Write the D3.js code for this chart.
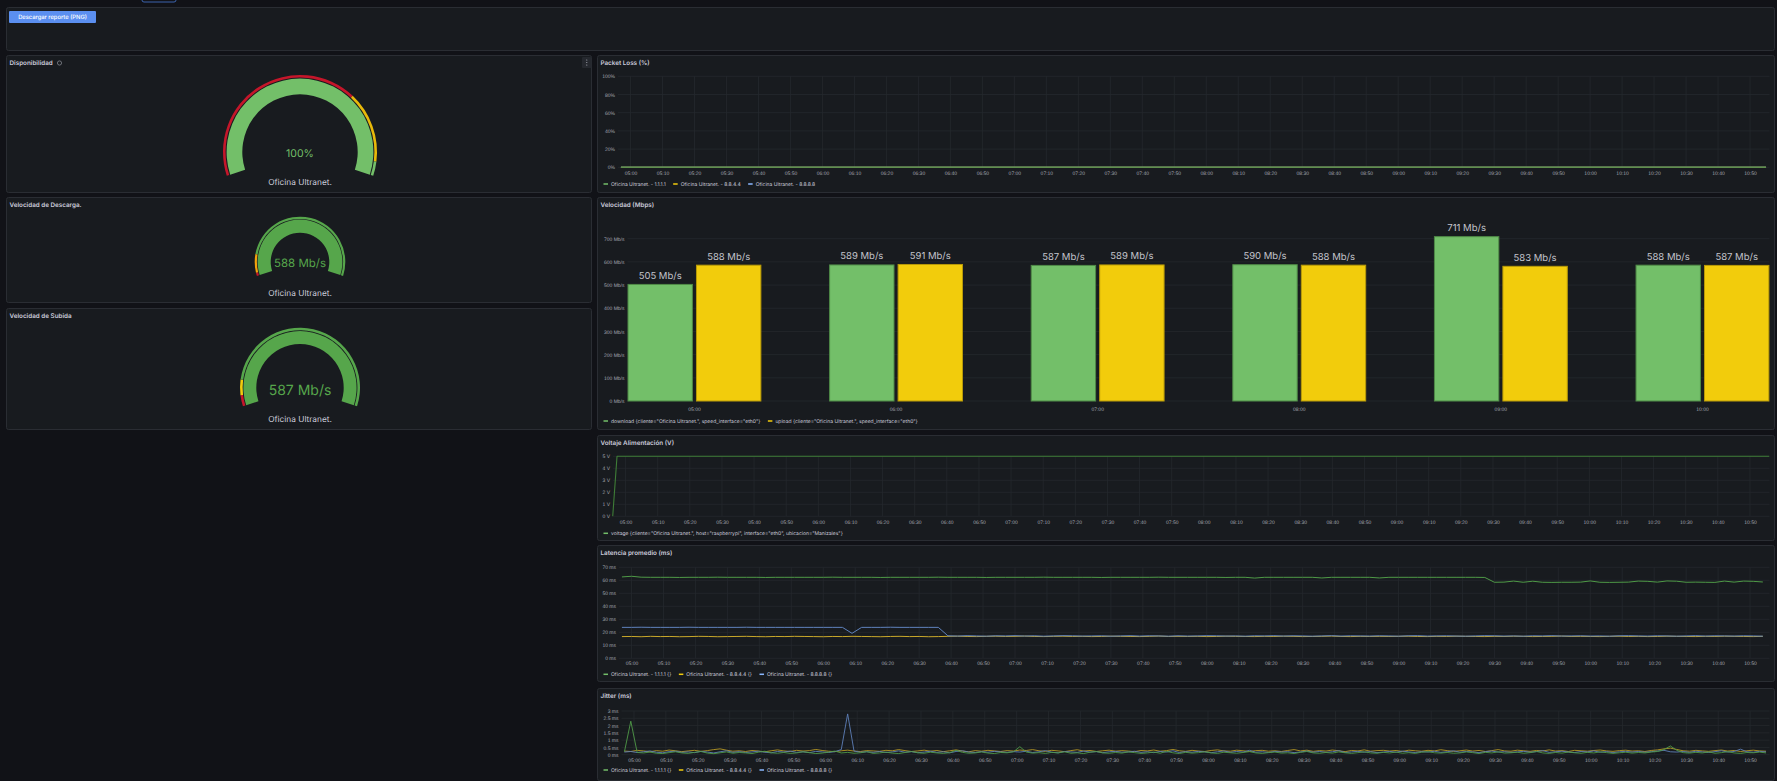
<!DOCTYPE html>
<html><head><meta charset="utf-8">
<script src="https://cdn.jsdelivr.net/npm/d3@7"></script>
<style>
html,body{margin:0;padding:0;background:#111217;overflow:hidden}
svg{display:block;font-family:Inter,"Noto Sans",sans-serif;text-rendering:geometricPrecision}
</style></head><body>
<svg id="c" width="1777" height="781"></svg>
<script>
// ================= DATA =================
const buttonLabel = "Descargar reporte (PNG)";

const gaugeTitles = ["Disponibilidad", "Velocidad de Descarga.", "Velocidad de Subida"];
const gaugeNames = ["Oficina Ultranet.", "Oficina Ultranet.", "Oficina Ultranet."];
const gaugeValues = [100, 588, 587];
const gaugeUnits = ["%", " Mb/s", " Mb/s"];
const gaugeMin = [0, 0, 0];
const gaugeMax = [100, 500, 500];
const gaugeSteps = [[0, 70, 95], [0, 10, 65], [0, 25, 60]];

const speedCategories = ["05:00", "06:00", "07:00", "08:00", "09:00", "10:00"];
const speedSeries = ["download", "upload"];
const downloadMbps = [505, 589, 587, 590, 711, 588];
const uploadMbps = [588, 591, 589, 588, 583, 587];
const speedTicks = [0, 100, 200, 300, 400, 500, 600, 700];
const speedLegend = ['download {cliente="Oficina Ultranet.", speed_interface="eth0"}',
                     'upload {cliente="Oficina Ultranet.", speed_interface="eth0"}'];

const lossTimes = ["04:57","05:30","06:00","06:30","07:00","07:30","08:00","08:30","09:00","09:30","10:00","10:30","10:55"];
const loss1111 = [0,0,0,0,0,0,0,0,0,0,0,0,0];
const loss8844 = [0,0,0,0,0,0,0,0,0,0,0,0,0];
const loss8888 = [0,0,0,0,0,0,0,0,0,0,0,0,0];
const lossTicks = [0, 20, 40, 60, 80, 100];
const lossLegend = ["Oficina Ultranet. - 1.1.1.1", "Oficina Ultranet. - 8.8.4.4", "Oficina Ultranet. - 8.8.8.8"];

const voltTimes = ["04:56","04:57:20","06:00","07:00","08:00","09:00","10:00","10:56"];
const voltValues = [0, 5, 5, 5, 5, 5, 5, 5];
const voltTicks = [0, 1, 2, 3, 4, 5];
const voltLegend = ['voltage {cliente="Oficina Ultranet.", host="raspberrypi", interface="eth0", ubicacion="Manizales"}'];

const latStart = "04:57", latStepMin = 3;
const lat1111 = [
62.6,63.1,62.4,62.3,62.3,62.3,62.2,62.3,62.3,62.3,62.4,62.3,62.3,62.3,62.3,62.2,62.3,62.3,62.3,62.3,
62.3,62.3,62.4,62.3,62.3,62.3,62.3,62.2,62.3,62.3,62.3,62.3,62.3,62.4,62.3,62.3,62.3,62.3,62.2,62.3,
62.3,62.3,62.3,62.3,62.4,62.3,62.3,62.3,62.3,62.3,62.2,62.3,62.3,62.3,62.3,62.3,62.4,62.3,62.3,62.3,
62.3,62.3,62.3,62.2,62.3,62.3,61.7,62.3,62.3,62.3,62.3,62.3,62.3,61.8,62.3,62.3,62.3,62.3,62.3,61.8,
62.3,62.3,62.3,62.3,62.3,62.3,62.3,62.3,62.3,62.3,62.2,58.5,58.6,59.4,58.5,59.3,58.5,58.4,58.5,58.5,
58.6,59.5,58.5,58.4,58.5,58.6,59.4,59.2,58.6,59.5,59.3,58.5,58.6,58.5,58.4,59.4,58.6,59.4,59.2,58.7];
const lat8844 = [
16.7,16.8,16.6,16.9,16.7,16.8,16.6,16.7,16.9,16.8,16.6,16.7,16.8,16.9,16.7,16.6,16.8,16.7,16.9,16.8,
16.7,16.6,16.8,16.7,16.9,16.8,16.7,16.6,16.8,16.9,16.7,16.8,16.6,16.7,16.9,17.0,16.8,16.7,16.9,17.0,
16.8,16.9,17.1,16.8,16.7,16.9,17.0,16.8,16.9,16.7,16.8,17.0,16.9,16.8,16.7,16.9,17.1,16.8,16.9,16.8,
16.9,16.7,16.8,17.0,16.9,16.8,16.7,16.9,16.8,17.0,16.9,16.7,16.8,16.9,17.1,16.8,16.7,16.9,16.8,16.9,
16.8,16.9,17.0,16.8,16.7,16.9,16.8,17.0,16.9,16.8,16.7,16.9,16.8,17.0,16.9,16.7,16.8,16.9,17.1,16.8,
16.9,16.8,16.7,16.9,17.0,16.8,16.9,16.7,16.8,17.0,16.9,16.8,16.7,16.9,16.8,17.0,16.9,16.8,16.7,16.9];
const lat8888 = [
23.8,23.8,23.9,23.8,23.8,23.8,23.8,23.9,23.8,23.8,23.8,23.8,23.8,23.9,23.8,23.8,23.8,23.8,23.8,23.8,
23.8,23.8,23.8,23.8,19.2,23.8,23.8,23.8,23.9,23.8,23.8,23.8,23.8,23.8,17.3,17.1,17.4,17.2,17.0,17.3,
17.2,17.4,17.1,17.3,17.0,17.2,17.4,17.3,17.1,17.2,17.3,17.0,17.2,17.4,17.1,17.3,17.2,17.0,17.3,17.1,
17.2,17.4,17.3,17.1,17.2,17.0,17.3,17.2,17.4,17.1,17.3,17.2,17.0,17.2,17.4,17.1,17.3,17.2,17.1,17.3,
17.2,17.0,17.3,17.4,17.1,17.2,17.3,17.1,17.0,17.2,17.4,17.3,17.1,17.2,17.0,17.3,17.2,17.4,17.1,17.2,
17.3,17.1,17.2,17.0,17.3,17.4,17.2,17.1,17.3,17.2,17.0,17.2,17.4,17.1,17.3,17.2,17.1,17.3,17.2,17.0];
const latTicks = [0, 10, 20, 30, 40, 50, 60, 70];
const latLegend = ["Oficina Ultranet. - 1.1.1.1 {}", "Oficina Ultranet. - 8.8.4.4 {}", "Oficina Ultranet. - 8.8.8.8 {}"];

const jitStart = "04:57", jitStepMin = 2;
const jit1111 = [
0.20,2.30,0.15,0.12,0.18,0.10,0.08,0.14,0.20,0.12,0.09,0.16,0.22,0.11,0.07,0.13,0.19,0.10,0.15,0.12,
0.08,0.17,0.24,0.13,0.10,0.15,0.09,0.12,0.20,0.14,0.08,0.11,0.18,0.25,0.12,0.16,0.10,0.13,0.21,0.09,
0.12,0.18,0.11,0.08,0.15,0.22,0.13,0.10,0.17,0.12,0.09,0.14,0.30,0.16,0.10,0.12,0.19,0.11,0.08,0.15,
0.13,0.20,0.55,0.18,0.11,0.14,0.09,0.16,0.12,0.20,0.10,0.13,0.08,0.17,0.22,0.12,0.10,0.15,0.11,0.19,
0.14,0.09,0.12,0.18,0.10,0.23,0.13,0.08,0.16,0.11,0.14,0.20,0.12,0.09,0.17,0.13,0.10,0.15,0.21,0.12,
0.09,0.14,0.18,0.11,0.13,0.08,0.16,0.22,0.12,0.10,0.15,0.11,0.19,0.13,0.09,0.14,0.20,0.12,0.10,0.16,
0.12,0.18,0.10,0.14,0.09,0.17,0.21,0.13,0.11,0.15,0.10,0.12,0.19,0.14,0.08,0.16,0.12,0.20,0.11,0.13,
0.17,0.10,0.14,0.22,0.12,0.09,0.15,0.11,0.18,0.13,0.10,0.16,0.12,0.20,0.14,0.09,0.13,0.17,0.11,0.15,
0.12,0.18,0.22,0.35,0.60,0.30,0.14,0.11,0.16,0.12,0.19,0.10,0.14,0.21,0.12,0.09,0.15,0.13,0.18,0.12];
const jit8844 = [
0.25,0.22,0.30,0.26,0.20,0.28,0.24,0.32,0.27,0.21,0.26,0.30,0.23,0.28,0.35,0.40,0.31,0.24,0.27,0.22,
0.29,0.25,0.20,0.27,0.33,0.26,0.22,0.30,0.25,0.28,0.36,0.29,0.24,0.21,0.27,0.31,0.25,0.22,0.28,0.26,
0.23,0.30,0.27,0.35,0.28,0.22,0.26,0.31,0.24,0.29,0.21,0.27,0.33,0.25,0.20,0.28,0.24,0.30,0.26,0.22,
0.28,0.25,0.32,0.29,0.35,0.27,0.23,0.30,0.26,0.21,0.28,0.34,0.25,0.29,0.22,0.27,0.31,0.24,0.28,0.25,
0.21,0.29,0.26,0.32,0.24,0.28,0.36,0.27,0.23,0.30,0.25,0.22,0.29,0.33,0.26,0.24,0.31,0.27,0.22,0.28,
0.30,0.24,0.27,0.22,0.29,0.35,0.26,0.31,0.23,0.28,0.25,0.32,0.27,0.21,0.29,0.26,0.33,0.24,0.28,0.30,
0.25,0.29,0.22,0.31,0.27,0.24,0.30,0.26,0.34,0.28,0.23,0.27,0.32,0.25,0.29,0.22,0.28,0.35,0.26,0.24,
0.31,0.27,0.23,0.29,0.26,0.33,0.25,0.28,0.22,0.30,0.27,0.24,0.29,0.32,0.26,0.23,0.28,0.31,0.25,0.27,
0.22,0.29,0.33,0.40,0.45,0.36,0.27,0.24,0.30,0.26,0.23,0.28,0.32,0.25,0.29,0.22,0.27,0.31,0.26,0.24];
const jit8888 = [
0.18,0.22,0.15,0.20,0.26,0.17,0.13,0.21,0.24,0.16,0.19,0.14,0.23,0.18,0.12,0.20,0.27,0.16,0.21,0.15,
0.19,0.24,0.17,0.13,0.22,0.18,0.25,0.16,0.20,0.14,0.23,0.19,0.15,0.21,0.35,2.80,0.25,0.17,0.20,0.16,
0.22,0.15,0.19,0.26,0.17,0.21,0.14,0.18,0.24,0.16,0.20,0.13,0.22,0.27,0.18,0.15,0.21,0.17,0.23,0.19,
0.16,0.21,0.18,0.24,0.15,0.20,0.28,0.17,0.13,0.22,0.19,0.16,0.25,0.18,0.21,0.14,0.20,0.23,0.17,0.19,
0.24,0.16,0.20,0.14,0.22,0.18,0.27,0.15,0.21,0.17,0.23,0.19,0.14,0.20,0.26,0.16,0.22,0.18,0.30,0.17,
0.20,0.15,0.23,0.18,0.21,0.14,0.19,0.25,0.17,0.22,0.16,0.20,0.28,0.15,0.19,0.23,0.17,0.21,0.14,0.18,
0.22,0.17,0.25,0.19,0.15,0.21,0.18,0.24,0.16,0.20,0.27,0.17,0.22,0.19,0.14,0.21,0.25,0.18,0.20,0.16,
0.19,0.23,0.17,0.21,0.28,0.16,0.20,0.24,0.18,0.15,0.22,0.19,0.26,0.17,0.21,0.14,0.20,0.23,0.18,0.22,
0.17,0.21,0.25,0.30,0.20,0.18,0.22,0.16,0.24,0.19,0.15,0.21,0.27,0.18,0.22,0.38,0.20,0.17,0.23,0.19];
const jitTicks = [0, 0.5, 1, 1.5, 2, 2.5, 3];
const jitLegend = latLegend;

const timeDomain = ["04:56:05", "10:56:05"];

// ================= STYLE =================
const C = {bg:"#111217", panel:"#181b1f", border:"#2a2d33", grid:"#25282d", text:"#ccccdc", tick:"#a6a8b2",
  green:"#73BF69", semiGreen:"#56A64B", yellow:"#F2CC0C", blue:"#8AB8FF", red:"#C4162A", orange:"#F2A20C"};
const gaugeColors = [[C.red, "#E8B90A", C.green], [C.red, C.orange, C.semiGreen], [C.red, C.yellow, C.semiGreen]];
const seriesColors = [C.green, C.yellow, C.blue];

// ================= HELPERS =================
const W = 1777, H = 781;
const svg = d3.select("#c");
const T = s => { const p = s.split(":").map(Number); return new Date(2024, 0, 1, p[0], p[1], p[2] || 0); };
const fmtTime = d3.timeFormat("%H:%M");

svg.append("rect").attr("width", W).attr("height", H).attr("fill", C.bg);

function panel(x, y, w, h, title) {
  const g = svg.append("g");
  g.append("rect").attr("x", x + 0.5).attr("y", y + 0.5).attr("width", w - 1).attr("height", h - 1)
    .attr("rx", 2).attr("fill", C.panel).attr("stroke", C.border);
  if (title) g.append("text").attr("x", x + 3.5).attr("y", y + 8).attr("dy", "0.35em")
    .attr("font-size", 6.3).attr("font-weight", 600).attr("fill", C.text).text(title);
  return g;
}

function legend(g, x0, y, items, colors) {
  let x = x0;
  items.forEach((t, i) => {
    g.append("rect").attr("x", x).attr("y", y - 0.75).attr("width", 4.5).attr("height", 1.5).attr("fill", colors[i]);
    const tx = g.append("text").attr("x", x + 7.5).attr("y", y).attr("dy", "0.35em")
      .attr("font-size", 5).attr("fill", C.text).text(t);
    x += 7.5 + tx.node().getComputedTextLength() + 7.5;
  });
}

function timeChart(g, o) {
  const x = d3.scaleTime().domain(timeDomain.map(T)).range([o.left, o.right]);
  const y = d3.scaleLinear().domain(o.yDomain).range(o.yRange);
  const ticks = x.ticks(d3.timeMinute.every(10));
  g.append("g").selectAll("line").data(o.yTicks).join("line")
    .attr("x1", o.left).attr("x2", o.right).attr("y1", d => y(d)).attr("y2", d => y(d))
    .attr("stroke", C.grid).attr("stroke-width", 0.8);
  g.append("g").selectAll("line").data(ticks).join("line")
    .attr("x1", d => x(d)).attr("x2", d => x(d)).attr("y1", o.yRange[1]).attr("y2", o.yRange[0])
    .attr("stroke", C.grid).attr("stroke-width", 0.8);
  const ay = g.append("g").attr("transform", `translate(${o.left - 3},0)`)
    .call(d3.axisLeft(y).tickValues(o.yTicks).tickFormat(o.yFmt).tickSize(0).tickPadding(0));
  ay.select(".domain").remove();
  ay.selectAll("text").attr("font-size", 5).attr("fill", C.tick).attr("font-family", null);
  const ax = g.append("g").attr("transform", `translate(0,${o.xLabelY})`)
    .call(d3.axisBottom(x).tickValues(ticks).tickFormat(fmtTime).tickSize(0).tickPadding(0));
  ax.select(".domain").remove();
  ax.selectAll("text").attr("y", 0).attr("dy", "0.35em").attr("font-size", 5).attr("fill", C.tick).attr("font-family", null);
  const line = d3.line().x(d => x(d.t)).y(d => y(d.v));
  o.series.forEach(s => {
    const pts = s.times.map((t, i) => ({t, v: s.values[i]}));
    g.append("path").datum(pts).attr("d", line).attr("fill", "none")
      .attr("stroke", s.color).attr("stroke-width", s.width || 1).attr("stroke-linejoin", "round")
      .attr("opacity", s.opacity || 1);
  });
  legend(g, 603.5, o.legendY, o.legend, o.legendColors);
}

const gridTimes = (start, step, n) => d3.range(n).map(i => d3.timeMinute.offset(T(start), i * step));

// ================= TOP =================
svg.append("rect").attr("x", 142).attr("y", -5).attr("width", 34).attr("height", 7).attr("rx", 2)
  .attr("fill", "none").attr("stroke", "#3c63ad").attr("stroke-width", 1);
panel(6, 7, 1769, 44, null);
svg.append("rect").attr("x", 9).attr("y", 11).attr("width", 87).attr("height", 12).attr("rx", 1)
  .attr("fill", "#5b8ff0");
svg.append("text").attr("x", 52.5).attr("y", 16.5).attr("dy", "0.35em").attr("text-anchor", "middle")
  .attr("font-size", 5.8).attr("font-weight", 500).attr("fill", "#ffffff").text(buttonLabel);

// ================= GAUGES =================
const gaugeLayout = [
  {px:6, py:55, pw:586, ph:138, cx:300, cy:152, ringIn:74.4, ringOut:77, mainIn:57.7, mainOut:73.4, vSize:10.5, vY:153.3, nY:182.3, mainColor:C.green},
  {px:6, py:197, pw:586, ph:106, cx:300, cy:262, ringIn:43.1, ringOut:45.3, mainIn:29.3, mainOut:42.4, vSize:11.5, vY:263.3, nY:293.3, mainColor:C.semiGreen},
  {px:6, py:308, pw:586, ph:122, cx:300, cy:387.7, ringIn:57.4, ringOut:60, mainIn:43.7, mainOut:56.6, vSize:14, vY:390, nY:419.3, mainColor:C.semiGreen}
];
const halfSweep = 108 * Math.PI / 180;
gaugeTitles.forEach((title, i) => {
  const L = gaugeLayout[i];
  const g = panel(L.px, L.py, L.pw, L.ph, title);
  const a = d3.scaleLinear().domain([gaugeMin[i], gaugeMax[i]]).range([-halfSweep, halfSweep]).clamp(true);
  const gg = g.append("g").attr("transform", `translate(${L.cx},${L.cy})`);
  const steps = gaugeSteps[i];
  steps.forEach((s, k) => {
    const e = k < steps.length - 1 ? steps[k + 1] : gaugeMax[i];
    gg.append("path").attr("d", d3.arc()({innerRadius: L.ringIn, outerRadius: L.ringOut, startAngle: a(s), endAngle: a(e)}))
      .attr("fill", gaugeColors[i][k]);
  });
  gg.append("path").attr("d", d3.arc()({innerRadius: L.mainIn, outerRadius: L.mainOut,
      startAngle: a(gaugeMin[i]), endAngle: a(gaugeValues[i])}))
    .attr("fill", L.mainColor);
  g.append("text").attr("x", L.cx).attr("y", L.vY).attr("dy", "0.35em").attr("text-anchor", "middle")
    .attr("font-size", L.vSize).attr("fill", L.mainColor).text(gaugeValues[i] + gaugeUnits[i]);
  g.append("text").attr("x", L.cx).attr("y", L.nY).attr("dy", "0.35em").attr("text-anchor", "middle")
    .attr("font-size", 8.3).attr("fill", C.text).text(gaugeNames[i]);
});
svg.append("circle").attr("cx", 59.5).attr("cy", 63).attr("r", 2.1).attr("fill", "none").attr("stroke", "#8e909a").attr("stroke-width", 0.7);
svg.append("rect").attr("x", 582).attr("y", 57).attr("width", 9.5).attr("height", 11).attr("rx", 1).attr("fill", "#25282e");
[60, 62.5, 65].forEach(yy => svg.append("circle").attr("cx", 586.8).attr("cy", yy).attr("r", 0.55).attr("fill", "#b8bac4"));

// ================= PACKET LOSS =================
{
  const g = panel(597, 55, 1178, 138, "Packet Loss (%)");
  const times = lossTimes.map(T);
  timeChart(g, {left: 618, right: 1769.5, yDomain: [0, 100], yRange: [167.3, 76.3], yTicks: lossTicks,
    yFmt: d => d + "%", xLabelY: 173, legendY: 184, legend: lossLegend, legendColors: seriesColors,
    series: [
      {times, values: loss8888, color: C.blue, width: 1.3},
      {times, values: loss8844, color: C.yellow, width: 1.3, opacity: 0.6},
      {times, values: loss1111, color: "#5f8f4e", width: 1.4}
    ]});
}

// ================= VELOCIDAD (bars) =================
{
  const g = panel(597, 197, 1178, 233, "Velocidad (Mbps)");
  const left = 627.5, right = 1769.4;
  const x = d3.scaleBand().domain(speedCategories).range([left, right]).paddingInner(0.336).paddingOuter(0);
  const xs = d3.scaleBand().domain(speedSeries).range([0, x.bandwidth()]).paddingInner(0.045);
  const y = d3.scaleLinear().domain([0, 700]).range([401, 238.7]);
  g.append("g").selectAll("line").data(speedTicks).join("line")
    .attr("x1", left).attr("x2", right).attr("y1", d => y(d)).attr("y2", d => y(d))
    .attr("stroke", C.grid).attr("stroke-width", 0.8);
  const ay = g.append("g").attr("transform", `translate(${left - 3},0)`)
    .call(d3.axisLeft(y).tickValues(speedTicks).tickFormat(d => d + " Mb/s").tickSize(0).tickPadding(0));
  ay.select(".domain").remove();
  ay.selectAll("text").attr("font-size", 5).attr("fill", C.tick).attr("font-family", null);
  const ax = g.append("g").attr("transform", "translate(0,409)").call(d3.axisBottom(x).tickSize(0).tickPadding(0));
  ax.select(".domain").remove();
  ax.selectAll("text").attr("y", 0).attr("dy", "0.35em").attr("font-size", 5).attr("fill", C.tick).attr("font-family", null);
  const vals = {download: downloadMbps, upload: uploadMbps};
  const fill = {download: C.green, upload: C.yellow};
  const stroke = {download: "#4f8a47", upload: "#b89a08"};
  speedSeries.forEach(s => {
    speedCategories.forEach((c, i) => {
      const v = vals[s][i];
      const bx = x(c) + xs(s), bw = xs.bandwidth();
      g.append("rect").attr("x", bx + 0.5).attr("y", y(v) + 0.5).attr("width", bw - 1).attr("height", y(0) - y(v) - 0.5)
        .attr("fill", fill[s]).attr("stroke", stroke[s]).attr("stroke-width", 1);
      g.append("text").attr("x", bx + bw / 2).attr("y", y(v) - 5).attr("text-anchor", "middle")
        .attr("font-size", 9.5).attr("fill", "#c3c4cc").text(v + " Mb/s");
    });
  });
  legend(g, 603.5, 421, speedLegend, [C.green, C.yellow]);
}

// ================= VOLTAJE =================
{
  const g = panel(597, 435, 1178, 106, "Voltaje Alimentación (V)");
  timeChart(g, {left: 613, right: 1769.5, yDomain: [0, 5], yRange: [516.3, 456.3], yTicks: voltTicks,
    yFmt: d => d + " V", xLabelY: 522.7, legendY: 533.3, legend: voltLegend, legendColors: [C.green],
    series: [{times: voltTimes.map(T), values: voltValues, color: "#3f7d37", width: 1.1}]});
}

// ================= LATENCIA =================
{
  const g = panel(597, 545, 1178, 137, "Latencia promedio (ms)");
  const times = gridTimes(latStart, latStepMin, lat1111.length);
  timeChart(g, {left: 619, right: 1769.5, yDomain: [0, 70], yRange: [658.3, 567.3], yTicks: latTicks,
    yFmt: d => d + " ms", xLabelY: 663.3, legendY: 674.3, legend: latLegend, legendColors: seriesColors,
    series: [
      {times, values: lat8844, color: "#c9a82a", width: 1},
      {times, values: lat8888, color: "#5f82bd", width: 1},
      {times, values: lat1111, color: "#4f9a47", width: 1}
    ]});
}

// ================= JITTER =================
{
  const g = panel(597, 688, 1178, 93, "Jitter (ms)");
  const times = gridTimes(jitStart, jitStepMin, jit1111.length);
  timeChart(g, {left: 621.5, right: 1769.5, yDomain: [0, 3], yRange: [754.7, 711], yTicks: jitTicks,
    yFmt: d => d + " ms", xLabelY: 760, legendY: 770, legend: jitLegend, legendColors: seriesColors,
    series: [
      {times, values: jit8844, color: "#b89a26", width: 0.9},
      {times, values: jit8888, color: "#5d7fb8", width: 0.9},
      {times, values: jit1111, color: "#4f9a47", width: 0.9}
    ]});
}
</script></body></html>
